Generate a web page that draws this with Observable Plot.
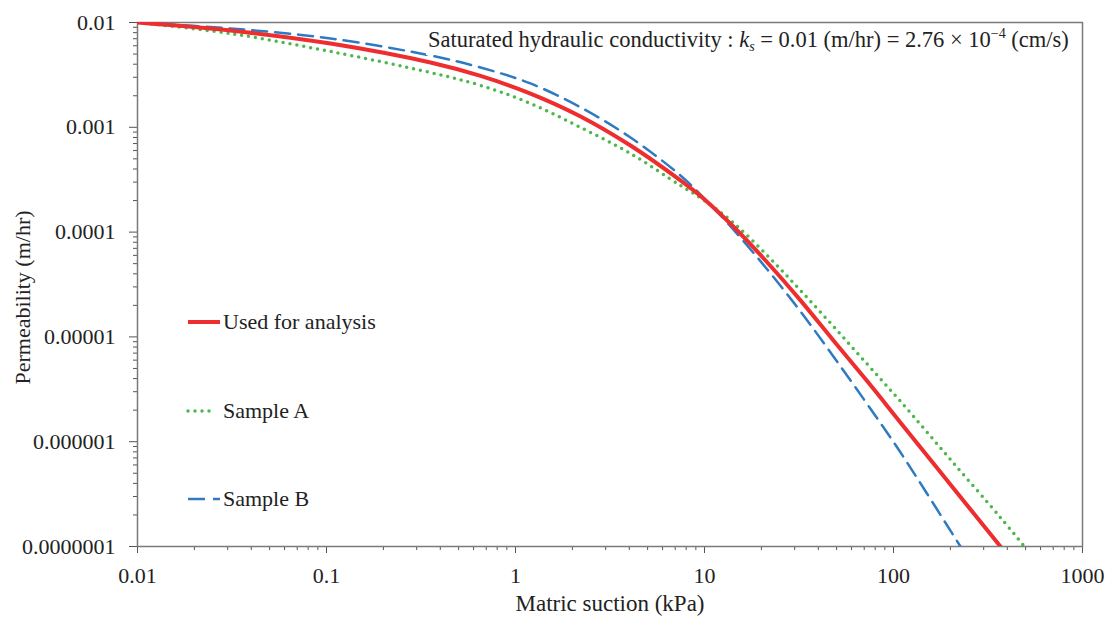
<!DOCTYPE html>
<html>
<head>
<meta charset="utf-8">
<script src="https://cdn.jsdelivr.net/npm/d3@7"></script>
<script src="https://cdn.jsdelivr.net/npm/@observablehq/plot@0.6"></script>
<style>
  html, body { margin: 0; padding: 0; background: #fff; }
  #chart svg { display: block; }
</style>
</head>
<body>
<div id="chart"></div>
<script>
// ---- data ----
const usedX = [0.01, 0.031, 0.105, 0.355, 0.653, 1.20, 2.21, 4.06, 7.46, 10, 14.2, 21.5, 32.2, 48.1, 72.9, 109, 200, 368];
const usedY = [0.01, 0.00839, 0.0063, 0.00415, 0.00309, 0.0021, 0.00127, 0.00067, 0.000311, 0.000205, 0.000113, 5.13e-5, 2.23e-5, 9.24e-6, 3.75e-6, 1.52e-6, 3.9e-7, 1e-7];

const sampleAX = [0.01, 0.031, 0.105, 0.355, 0.653, 1.20, 2.21, 4.06, 7.46, 10, 14.2, 21.5, 32.2, 48.1, 72.9, 109, 200, 368, 493];
const sampleAY = [0.01, 0.00785, 0.00529, 0.00333, 0.00251, 0.00169, 0.000996, 0.000562, 0.000278, 0.0002, 0.000123, 5.98e-5, 2.77e-5, 1.26e-5, 5.45e-6, 2.42e-6, 6.76e-7, 1.89e-7, 1e-7];

const sampleBX = [0.01, 0.031, 0.105, 0.355, 0.653, 1.20, 2.21, 4.06, 7.46, 10, 14.2, 21.5, 32.2, 48.1, 72.9, 109, 226];
const sampleBY = [0.01, 0.00877, 0.00704, 0.00484, 0.00372, 0.00262, 0.00155, 0.000799, 0.000347, 0.000209, 0.000106, 4.4e-5, 1.75e-5, 6.5e-6, 2.26e-6, 7.88e-7, 1e-7];

const seriesNames = ["Used for analysis", "Sample A", "Sample B"];

const xTicks = [0.01, 0.1, 1, 10, 100, 1000];
const xTickLabels = ["0.01", "0.1", "1", "10", "100", "1000"];
const yTicks = [0.01, 0.001, 0.0001, 0.00001, 0.000001, 0.0000001];
const yTickLabels = ["0.01", "0.001", "0.0001", "0.00001", "0.000001", "0.0000001"];

const xTitle = "Matric suction (kPa)";
const yTitle = "Permeability (m/hr)";

// ---- build tables ----
const toRows = (xs, ys, name) => xs.map((x, i) => ({x, y: ys[i], series: name}));
const used = toRows(usedX, usedY, seriesNames[0]);
const sampA = toRows(sampleAX, sampleAY, seriesNames[1]);
const sampB = toRows(sampleBX, sampleBY, seriesNames[2]);

const minor = (lo, hi) => {
  const out = [];
  for (let e = lo; e < hi; e++) for (let m = 2; m <= 9; m++) out.push(m * Math.pow(10, e));
  return out;
};
const xMinor = minor(-2, 3);
const yMinor = minor(-7, -2);

const FONT = "'Liberation Serif', 'Times New Roman', serif";
const RED = "#ee2d2f", GREEN = "#4cb84a", BLUE = "#2f7bc3";

const chart = Plot.plot({
  width: 1109,
  height: 617,
  marginLeft: 137,
  marginRight: 27,
  marginTop: 22,
  marginBottom: 71,
  style: {fontFamily: FONT, fontSize: "22px", color: "#222", background: "#fff"},
  x: {type: "log", domain: [0.01, 1000]},
  y: {type: "log", domain: [1e-7, 0.01]},
  marks: [
    Plot.axisX(xMinor, {anchor: "bottom", tickSize: 4, text: null, stroke: "#555", label: null}),
    Plot.axisX(xTicks, {anchor: "bottom", tickSize: 7, tickPadding: 14, stroke: "#555", fontSize: 22,
      tickFormat: d => xTickLabels[xTicks.indexOf(d)], label: null}),
    Plot.axisY(yMinor, {anchor: "left", tickSize: 4, text: null, stroke: "#555", label: null}),
    Plot.axisY(yTicks, {anchor: "left", tickSize: 8, tickPadding: 14, stroke: "#555", fontSize: 22,
      tickFormat: d => yTickLabels[yTicks.indexOf(d)], label: null}),
    Plot.frame({stroke: "#7a7a7a", strokeWidth: 1.5}),
    Plot.line(sampB, {x: "x", y: "y", stroke: BLUE, strokeWidth: 2.5, strokeDasharray: "15,8", curve: "catmull-rom", clip: true}),
    Plot.line(sampA, {x: "x", y: "y", stroke: GREEN, strokeWidth: 3.5, strokeDasharray: "0,7", strokeLinecap: "round", curve: "catmull-rom", clip: true}),
    Plot.line(used, {x: "x", y: "y", stroke: RED, strokeWidth: 4, curve: "catmull-rom", clip: true}),
    Plot.text([xTitle], {frameAnchor: "bottom", textAnchor: "middle", lineAnchor: "middle", dy: 57, fontSize: 23, fill: "#222"}),
    Plot.text([yTitle], {frameAnchor: "left", textAnchor: "middle", lineAnchor: "middle", dx: -115, dy: 13, rotate: -90, fontSize: 22, fill: "#222"})
  ]
});

document.getElementById("chart").appendChild(chart);

// ---- legend and annotation inside the SVG ----
const svg = d3.select(chart);
const leg = svg.append("g").attr("font-family", FONT).attr("font-size", 22).attr("fill", "#222").attr("text-anchor", "start");
const legendItems = [
  {name: seriesNames[0], color: RED, width: 4, dash: null, cap: "butt", y: 322, x2: 220},
  {name: seriesNames[1], color: GREEN, width: 3.5, dash: "0,7", cap: "round", y: 411, x2: 215},
  {name: seriesNames[2], color: BLUE, width: 2.5, dash: "17,8", cap: "butt", y: 499, x2: 220}
];
legendItems.forEach(it => {
  leg.append("line")
    .attr("x1", 188).attr("x2", it.x2)
    .attr("y1", it.y).attr("y2", it.y)
    .attr("stroke", it.color).attr("stroke-width", it.width)
    .attr("stroke-linecap", it.cap)
    .attr("stroke-dasharray", it.dash);
  leg.append("text").attr("x", 223).attr("y", it.y).attr("dy", "0.33em").text(it.name);
});

svg.append("rect").attr("x", 426).attr("y", 24).attr("width", 652).attr("height", 31).attr("fill", "#fff");
const ann = svg.append("text")
  .attr("font-family", FONT).attr("font-size", 22.5).attr("fill", "#222")
  .attr("text-anchor", "start")
  .attr("x", 428).attr("y", 47);
ann.append("tspan").text("Saturated hydraulic conductivity : ");
ann.append("tspan").attr("font-style", "italic").text("k");
ann.append("tspan").attr("font-style", "italic").attr("font-size", 14).attr("dy", 4).text("s");
ann.append("tspan").attr("dy", -4).text(" = 0.01 (m/hr) = 2.76 \u00d7 10");
ann.append("tspan").attr("font-size", 14).attr("dy", -9).text("\u22124");
ann.append("tspan").attr("dy", 9).text(" (cm/s)");
</script>
</body>
</html>
